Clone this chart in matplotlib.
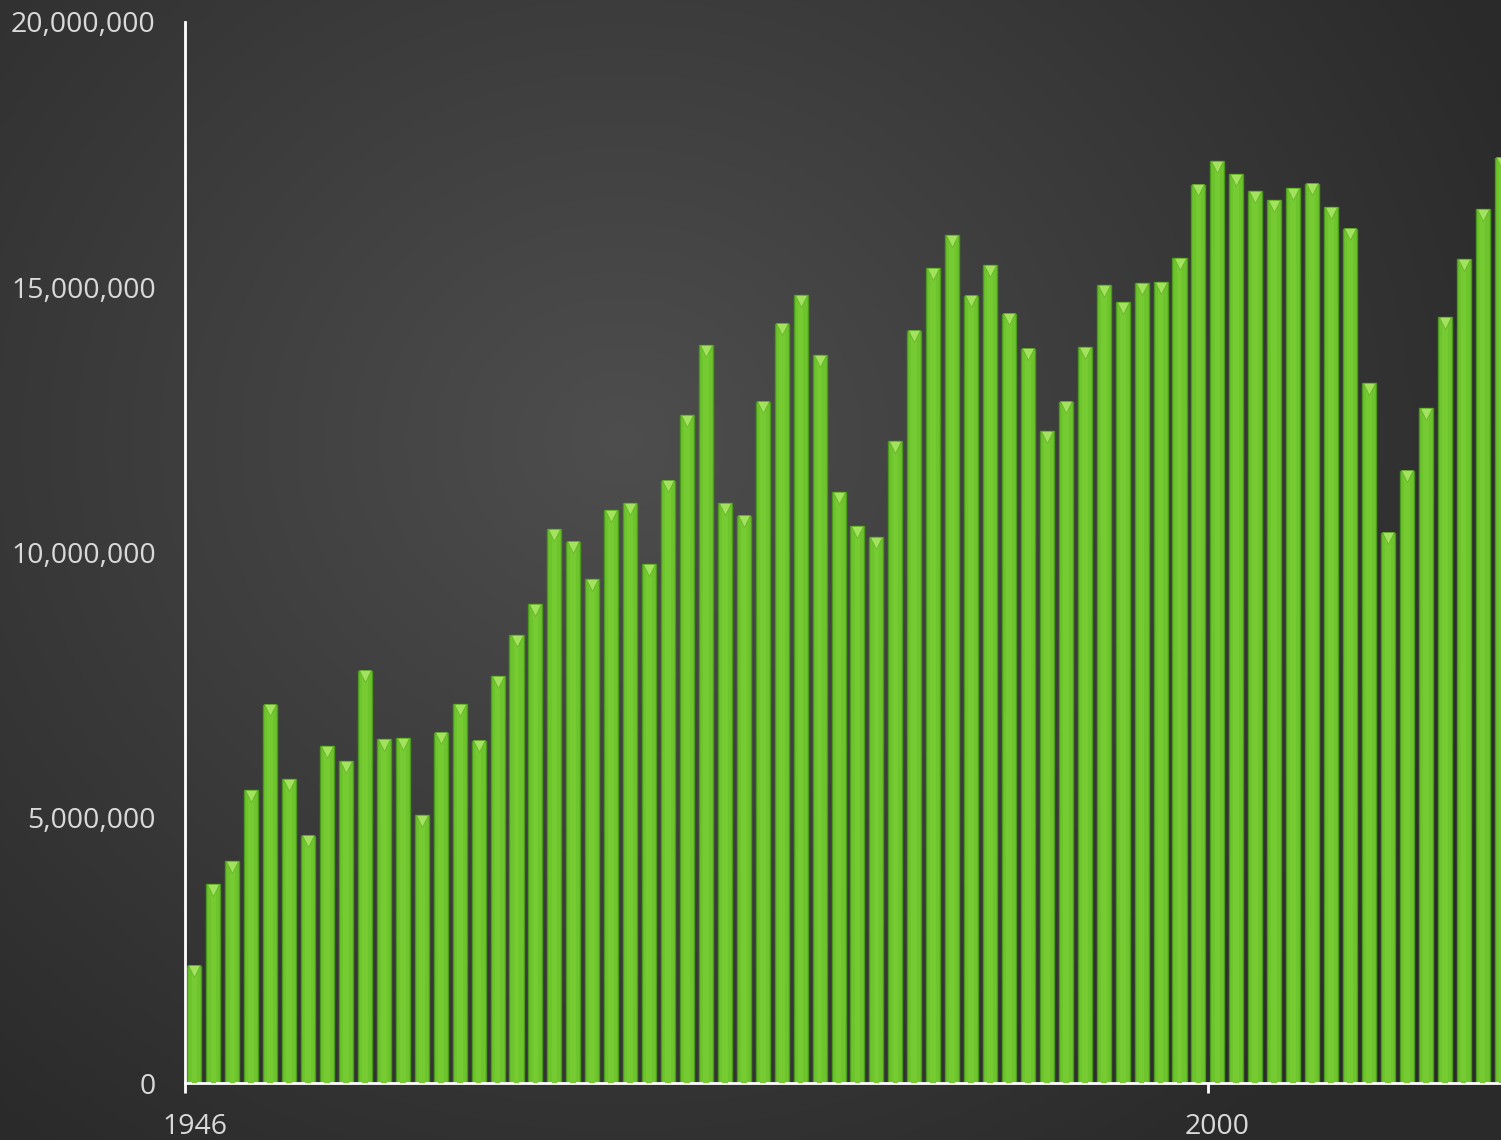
"""
US light-vehicle sales by year, 1946-2015, on a dark radial background.
"""

import matplotlib

matplotlib.use("Agg")
import matplotlib.pyplot as plt
import matplotlib.transforms as mtransforms
import numpy as np
from matplotlib.ticker import FuncFormatter

years = list(range(1946, 2016))
sales = [
    2.21, 3.75, 4.18, 5.52, 7.13, 5.73, 4.66, 6.35, 6.07, 7.77,
    6.48, 6.50, 5.05, 6.60, 7.14, 6.45, 7.67, 8.44, 9.03, 10.44,
    10.20, 9.50, 10.80, 10.93, 9.78, 11.35, 12.59, 13.91, 10.93, 10.69,
    12.84, 14.31, 14.85, 13.72, 11.14, 10.50, 10.29, 12.10, 14.18, 15.36,
    15.98, 14.84, 15.42, 14.50, 13.84, 12.29, 12.84, 13.87, 15.04, 14.72,
    15.08, 15.10, 15.55, 16.93, 17.38, 17.13, 16.81, 16.64, 16.87, 16.95,
    16.51, 16.10, 13.19, 10.37, 11.54, 12.72, 14.44, 15.53, 16.47, 17.44,
]
sales = [v * 1_000_000 for v in sales]
x_labels = {1946: "1946", 2000: "2000"}

W, H = 1501, 1140
fig = plt.figure(figsize=(W / 100, H / 100), dpi=100)

# radial background
bg = fig.add_axes([0, 0, 1, 1])
yy, xx = np.mgrid[0:H, 0:W]
r = np.hypot((xx - 620) / 1050, (yy - 440) / 950)
shade = np.clip(0.305 - 0.15 * r, 0.165, 0.305)
bg.imshow(np.dstack([shade, shade, shade]), aspect="auto", extent=[0, 1, 0, 1])
bg.axis("off")

left, right = 185 / W, 1511 / W
bottom, top = (H - 1083) / H, (H - 22) / H
ax = fig.add_axes([left, bottom, right - left, top - bottom])
ax.patch.set_alpha(0)

idx = np.arange(len(years))
ax.bar(idx, sales, width=0.74, color="#6dc42c", edgecolor="#4a981c",
       linewidth=1.0, zorder=2)
ax.bar(idx, sales, width=0.3, color="#76cb33", linewidth=0, zorder=3)

# bevel highlight at each bar top
bevel = mtransforms.offset_copy(ax.transData, fig=fig, x=0, y=-4, units="points")
ax.plot(idx, sales, linestyle="none", marker="v", markersize=9,
        markerfacecolor="#a2e25e", markeredgecolor="#62b026",
        markeredgewidth=0.5, transform=bevel, zorder=4, clip_on=False)

ax.set_xlim(-0.5, len(years) - 0.5)
ax.set_ylim(0, 20_000_000)
ax.set_yticks([0, 5_000_000, 10_000_000, 15_000_000, 20_000_000])
ax.yaxis.set_major_formatter(FuncFormatter(lambda v, _: f"{int(v):,}"))

tick_pos = [years.index(y) for y in x_labels]
ax.set_xticks([p - 0.5 for p in tick_pos])
ax.set_xticklabels([])
ax.set_xticks(tick_pos, minor=True)
ax.set_xticklabels(list(x_labels.values()), minor=True)
ax.tick_params(axis="x", which="major", length=7, width=2, color="white")
ax.tick_params(axis="x", which="minor", length=0, pad=21.5)
ax.tick_params(axis="y", length=0, pad=21)
for lab in ax.get_xticklabels(minor=True) + ax.get_yticklabels():
    lab.set_fontfamily("Open Sans")
    lab.set_fontsize(20.5)
    lab.set_color("#d9d9d9")

for side in ("top", "right"):
    ax.spines[side].set_visible(False)
for side in ("left", "bottom"):
    ax.spines[side].set_color("white")
    ax.spines[side].set_linewidth(2)

fig.savefig("out.png", dpi=100)
